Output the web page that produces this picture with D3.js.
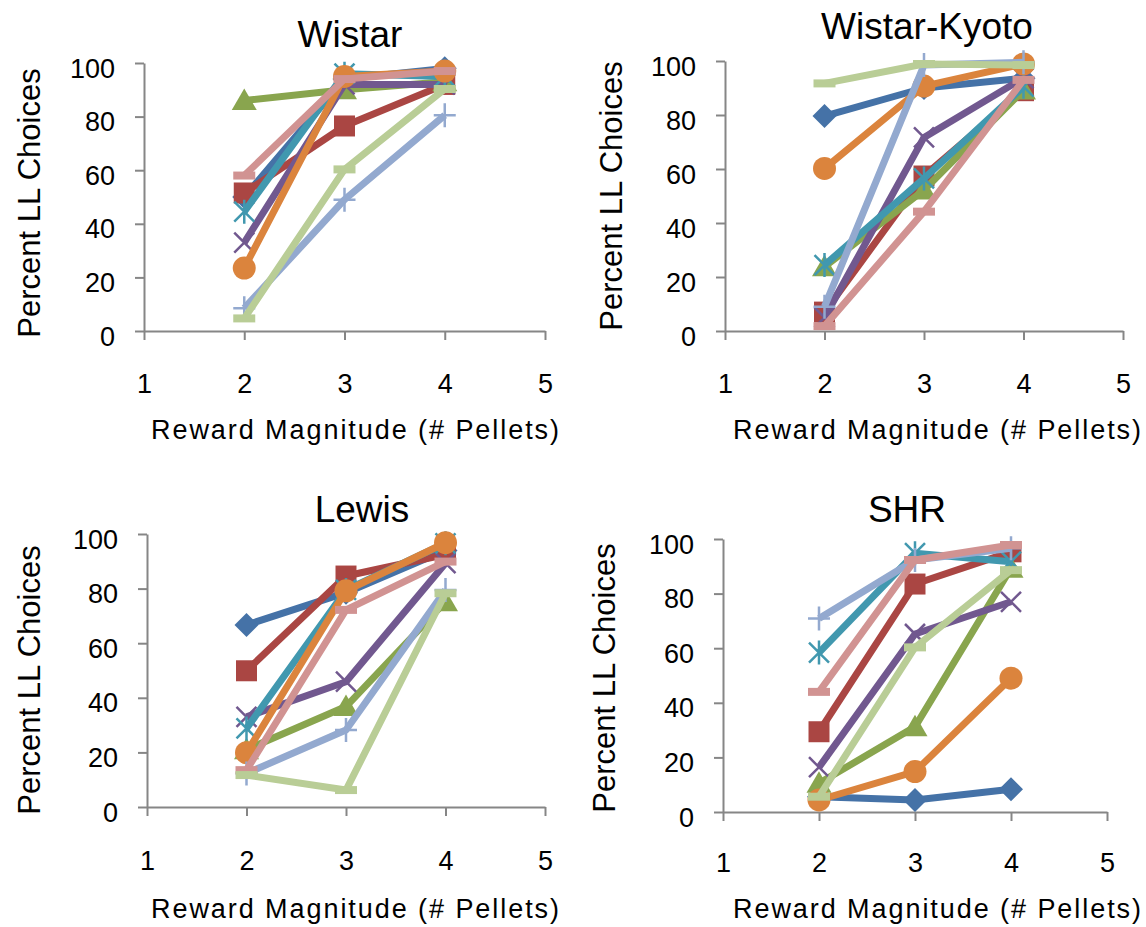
<!DOCTYPE html>
<html>
<head>
<meta charset="utf-8">
<script src="https://cdn.jsdelivr.net/npm/d3@7"></script>
<style>
  html, body { margin: 0; padding: 0; background: #fff; }
  svg { display: block; font-family: "Liberation Sans", Arial, Helvetica, sans-serif; }
</style>
</head>
<body>
<svg id="chart" width="1146" height="927"></svg>
<script>
// ---- Data ----
const xValues = [2, 3, 4];
const xTicks = [1, 2, 3, 4, 5];
const yTicks = [0, 20, 40, 60, 80, 100];
const panelTitles = ["Wistar", "Wistar-Kyoto", "Lewis", "SHR"];
const xAxisTitle = "Reward Magnitude (# Pellets)";
const yAxisTitle = "Percent LL Choices";

// one row per subject (series 1..9), values at 2, 3, 4 pellets
const wistar = [
  [50, 94, 98],
  [51.5, 76.5, 92],
  [86, 90, 93],
  [33, 92, 92],
  [44.5, 96, 95],
  [23.5, 95, 97],
  [8.5, 49, 80.5],
  [58, 94, 97],
  [4.7, 60.3, 90.3]
];
const wistarKyoto = [
  [79.6, 90, 93.6],
  [7, 57.4, 89],
  [23.8, 52.2, 89.3],
  [5, 71.7, 93.7],
  [24.4, 56.5, 90.5],
  [60.2, 90.7, 98.9],
  [9, 98.5, 99.5],
  [1.8, 44.2, 93],
  [91.7, 98.9, 98.5]
];
const lewis = [
  [66.7, 78.5, 94],
  [49.9, 84.6, 92.5],
  [21, 36.8, 75.2],
  [33, 45.9, 89.3],
  [28.8, 79.5, 96.6],
  [19.9, 79.2, 96.8],
  [12.3, 28.2, 79.5],
  [13.5, 72.2, 89.9],
  [11.7, 6.2, 78.3]
];
const shr = [
  [5.6, 4.4, 8.3],
  [29.4, 83.5, 95.3],
  [10.5, 31.2, 89.3],
  [16.4, 65.2, 77],
  [58.4, 94.8, 91.7],
  [4.4, 14.8, 49],
  [70.9, 92.3, 96.6],
  [44, 92.3, 97.8],
  [5.6, 60.3, 88.6]
];
const panelData = [wistar, wistarKyoto, lewis, shr];

const seriesColors = ["#4572A7", "#AA4643", "#89A54E", "#71588F", "#4198AF",
                      "#DB843D", "#93A9CF", "#D19392", "#B9CD96"];
const seriesMarkers = ["diamond", "square", "triangle", "x", "star",
                       "circle", "plus", "dash", "dash"];

// ---- Layout (pixel geometry of each panel) ----
const layout = [
  { x0: 144, x1: 545, yb: 331, yt: 63,  titleX: 350, titleY: 47,  yTitleX: 40,  yTitleY: 203, tickY: 393, xTitleX: 355, xTitleY: 439 },
  { x0: 725, x1: 1123, yb: 331, yt: 61, titleX: 927, titleY: 39,  yTitleX: 622, yTitleY: 196, tickY: 393, xTitleX: 937, xTitleY: 439 },
  { x0: 147, x1: 545, yb: 807, yt: 534, titleX: 362, titleY: 522, yTitleX: 40,  yTitleY: 680, tickY: 870, xTitleX: 355, xTitleY: 918 },
  { x0: 723, x1: 1107, yb: 812, yt: 539, titleX: 907, titleY: 522, yTitleX: 615, yTitleY: 678, tickY: 872, xTitleX: 937, xTitleY: 918 }
];

const svg = d3.select("#chart");
svg.append("rect").attr("width", 1146).attr("height", 927).attr("fill", "#fff");

const axisColor = "#868686";

function markerPath(type) {
  switch (type) {
    case "diamond": return "M0,-12L12,0L0,12L-12,0Z";
    case "square": return "M-10.5,-10.5H10.5V10.5H-10.5Z";
    case "triangle": return "M0,-12L12.5,9.5H-12.5Z";
    case "x": return "M-10,-10L10,10M10,-10L-10,10";
    case "star": return "M-10,-10L10,10M10,-10L-10,10M0,-12V12";
    case "circle": return "M11.5,0A11.5,11.5 0 1,1 -11.5,0A11.5,11.5 0 1,1 11.5,0Z";
    case "plus": return "M-11,0H11M0,-12V12";
    case "dash": return "M-11,-4H11V4H-11Z";
  }
}
const strokedMarkers = new Set(["x", "star", "plus"]);

layout.forEach((L, pi) => {
  const g = svg.append("g");
  const x = d3.scaleLinear().domain([1, 5]).range([L.x0, L.x1]);
  const y = d3.scaleLinear().domain([0, 100]).range([L.yb, L.yt]);

  // y axis
  const yAxis = d3.axisLeft(y).tickValues(yTicks).tickFormat(d3.format("d"))
    .tickSize(9).tickSizeOuter(0).tickPadding(20);
  const ya = g.append("g").attr("transform", `translate(${L.x0},0)`).call(yAxis);
  ya.select(".domain").attr("stroke", axisColor).attr("stroke-width", 2);
  ya.selectAll(".tick line").attr("stroke", axisColor).attr("stroke-width", 2);
  ya.selectAll(".tick text").attr("font-size", 27).attr("fill", "#000")
    .attr("font-family", "Liberation Sans, Arial, sans-serif")
    .attr("dy", "0.52em").attr("x", -29);

  // x axis
  const xAxis = d3.axisBottom(x).tickValues(xTicks).tickFormat(d3.format("d"))
    .tickSize(9).tickSizeOuter(0).tickPadding(20);
  const xa = g.append("g").attr("transform", `translate(0,${L.yb})`).call(xAxis);
  xa.select(".domain").attr("stroke", axisColor).attr("stroke-width", 2);
  xa.selectAll(".tick line").attr("stroke", axisColor).attr("stroke-width", 2);
  xa.selectAll(".tick text").attr("font-size", 27).attr("fill", "#000")
    .attr("font-family", "Liberation Sans, Arial, sans-serif")
    .attr("dy", null).attr("y", L.tickY - L.yb);

  // title
  g.append("text").attr("x", L.titleX).attr("y", L.titleY)
    .attr("text-anchor", "middle").attr("font-size", 37).attr("fill", "#000")
    .text(panelTitles[pi]);

  // y title
  g.append("text").attr("transform", `translate(${L.yTitleX},${L.yTitleY}) rotate(-90)`)
    .attr("text-anchor", "middle").attr("font-size", 31).attr("fill", "#000")
    .text(yAxisTitle);

  // x title
  g.append("text").attr("x", L.xTitleX).attr("y", L.xTitleY)
    .attr("text-anchor", "middle").attr("font-size", 27).attr("fill", "#000")
    .attr("textLength", 408).attr("lengthAdjust", "spacing")
    .text(xAxisTitle);

  // series
  const line = d3.line().x((d, i) => x(xValues[i])).y(d => y(d));
  panelData[pi].forEach((vals, si) => {
    const color = seriesColors[si];
    const sg = g.append("g");
    sg.append("path").attr("d", line(vals)).attr("fill", "none")
      .attr("stroke", color).attr("stroke-width", 7)
      .attr("stroke-linejoin", "round").attr("stroke-linecap", "butt");
    const type = seriesMarkers[si];
    sg.selectAll("path.m").data(vals).join("path").attr("class", "m")
      .attr("transform", (d, i) => `translate(${x(xValues[i])},${y(d)})`)
      .attr("d", markerPath(type))
      .attr("fill", strokedMarkers.has(type) ? "none" : color)
      .attr("stroke", color)
      .attr("stroke-width", strokedMarkers.has(type) ? 2.5 : 0);
  });
});
</script>
</body>
</html>
